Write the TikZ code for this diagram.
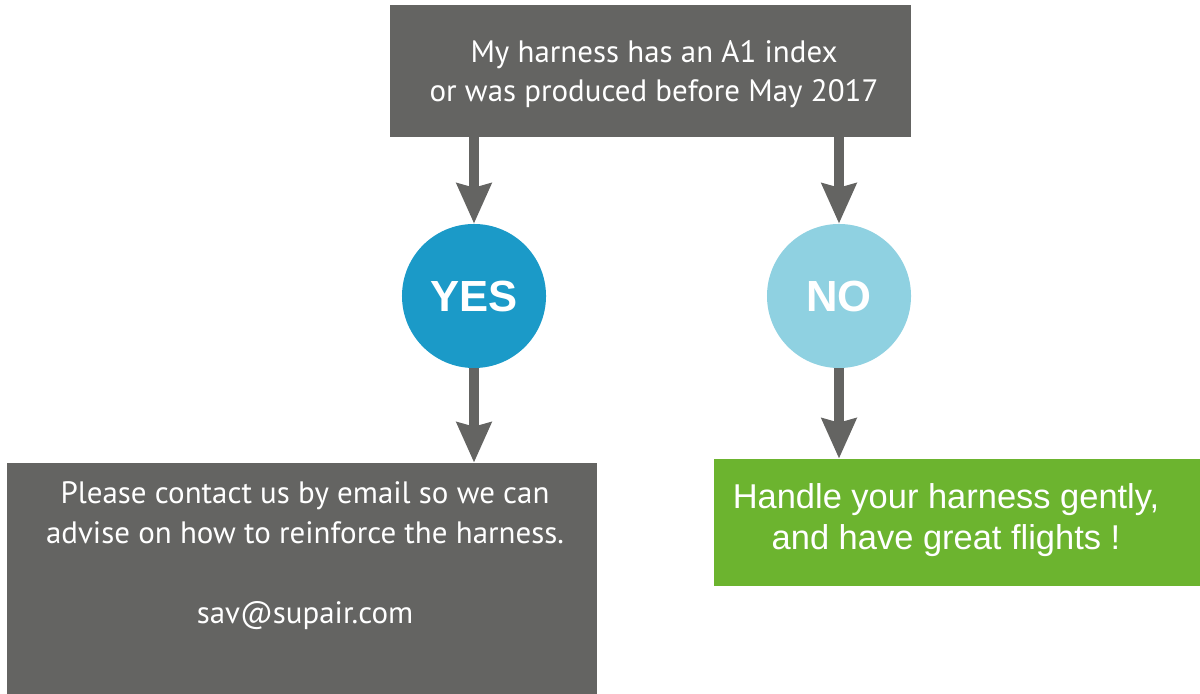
\documentclass[tikz,border=0pt]{standalone}
\usepackage{fontspec}
\usepackage{tikz}
\usetikzlibrary{arrows.meta, calc, positioning}
\newfontfamily\bodyfont{PT Sans}
\newfontfamily\arialfont{Liberation Sans}
\definecolor{boxgrey}{RGB}{100,100,98}
\definecolor{yesblue}{RGB}{27,154,200}
\definecolor{nocyan}{RGB}{143,209,225}
\definecolor{okgreen}{RGB}{108,180,47}

\begin{document}
\begin{tikzpicture}[x = 0.025cm, y = -0.025cm,
                flow/.style = {draw = boxgrey, line width = 7.8pt,
                        -{Stealth[length = 1cm, width = 0.85cm, inset = 0.1cm]}},
                answer/.style = {circle, minimum size = 3.6cm, inner sep = 0pt, text = white,
                        font = \arialfont\bfseries\fontsize{31}{36}\selectfont},
                panel/.style = {rectangle, inner sep = 0pt}]
                \useasboundingbox (0, 0) rectangle (1200, 694);

                \node (Top) [panel, fill = boxgrey, minimum width = 13.025cm, minimum height = 3.3cm] at (650.5, 71) {};
                \node (TopText) [text = white, align = center,
                        font = \bodyfont\fontsize{22}{28}\selectfont] at (654, 74)
                        { My harness has an A1 index \\ or was produced before May 2017 };

                \node (Yes) [answer, fill = yesblue] at (474, 296) { YES };
                \node (No) [answer, fill = nocyan] at (839, 296) { NO };

                \node (Contact) [panel, fill = boxgrey, minimum width = 14.75cm, minimum height = 5.775cm] at (302, 578.5) {};
                \node (ContactText) [text = white, align = center,
                        font = \bodyfont\fontsize{22}{28.5}\selectfont] at (305, 556)
                        { Please contact us by email so we can \\ advise on how to reinforce the harness. \\[28.5pt] sav@supair.com };

                \node (Gently) [panel, fill = okgreen, minimum width = 12.15cm, minimum height = 3.175cm] at (957, 522.5) {};
                \node (GentlyText) [text = white, align = center,
                        font = \arialfont\fontsize{24.5}{29}\selectfont] at (946, 520)
                        { Handle your harness gently, \\ and have great flights ! };

                \draw [flow] (Top.south -| Yes) -- (Yes.north);
                \draw [flow] (Top.south -| No) -- (No.north);
                \draw [flow] (Yes.south) -- (Yes.south |- Contact.north);
                \draw [flow] (No.south) -- (No.south |- Gently.north);
\end{tikzpicture}
\end{document}
